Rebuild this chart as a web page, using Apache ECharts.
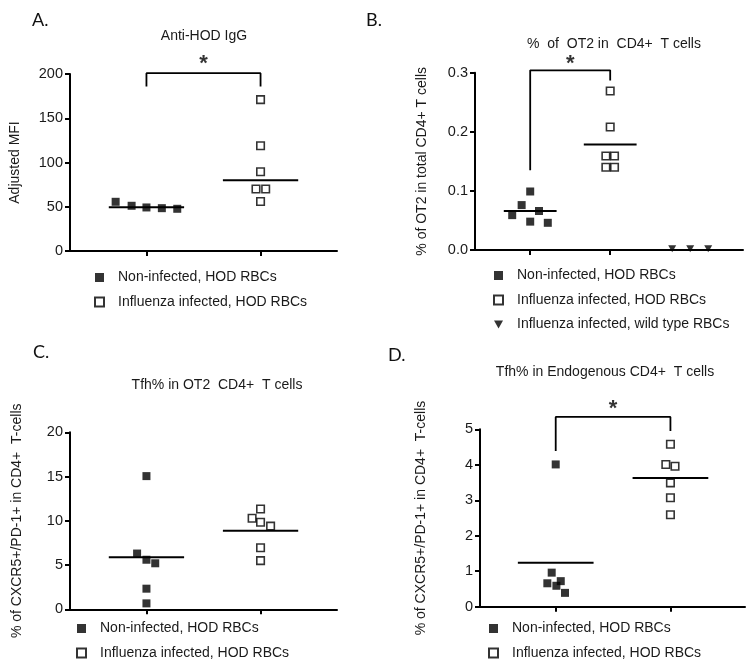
<!DOCTYPE html>
<html><head><meta charset="utf-8">
<script src="https://cdn.jsdelivr.net/npm/echarts@6/dist/echarts.min.js"></script>
<style>html,body{margin:0;padding:0;background:#fff}#c{width:750px;height:663px}</style>
</head><body><div id="c"></div>
<script>
const groupNames = ['Non-infected, HOD RBCs', 'Influenza infected, HOD RBCs', 'Influenza infected, wild type RBCs'];
const panelTitles = ['Anti-HOD IgG', '%  of  OT2 in  CD4+  T cells', 'Tfh% in OT2  CD4+  T cells', 'Tfh% in Endogenous CD4+  T cells'];
const panelLetters = ['A.', 'B.', 'C.', 'D.'];
const yNames = ['Adjusted MFI', '% of OT2 in total CD4+ T cells', '% of CXCR5+/PD-1+ in CD4+  T-cells', '% of CXCR5+/PD-1+ in CD4+  T-cells'];

// Panel A
const aNonInf = [55.6, 51.1, 49.2, 48.4, 47.7];
const aNonInfJitter = [-0.27, -0.13, 0, 0.135, 0.27];
const aFlu = [171, 119, 89.5, 70, 70, 56];
const aFluJitter = [0, 0, 0, -0.04, 0.045, 0];
const aCentre = [49.5, 80];
const aBracket = [186, 200.9, 186];
const aStar = 211;

// Panel B
const bNonInf = [0.076, 0.059, 0.099, 0.066, 0.048, 0.046];
const bNonInfJitter = [-0.107, -0.225, 0, 0.11, 0, 0.22];
const bFlu = [0.269, 0.208, 0.159, 0.159, 0.140, 0.140];
const bFluJitter = [0, 0, -0.054, 0.054, -0.054, 0.054];
const bWt = [0.002, 0.002, 0.002];
const bWtJitter = [-0.225, 0, 0.225];
const bCentre = [0.066, 0.1785, 0];
const bBracket = [0.135, 0.304, 0.287];
const bStar = 0.315;

// Panel C
const cNonInf = [15.05, 6.3, 5.6, 5.2, 2.33, 0.67];
const cNonInfJitter = [0, -0.082, 0, 0.077, 0, 0];
const cFlu = [11.33, 10.28, 9.83, 9.4, 6.96, 5.5];
const cFluJitter = [0, -0.074, 0, 0.088, 0, 0];
const cCentre = [5.87, 8.88];

// Panel D
const dNonInf = [4.01, 0.96, 0.66, 0.59, 0.72, 0.39];
const dNonInfJitter = [0, -0.035, -0.073, 0.006, 0.044, 0.081];
const dFlu = [4.58, 4.01, 3.96, 3.49, 3.07, 2.59];
const dFluJitter = [0, -0.04, 0.04, 0, 0, 0];
const dCentre = [1.24, 3.63];
const dBracket = [4.39, 5.35, 4.95];
const dStar = 5.57;

const yTicks = [
  {min: 0, max: 200, interval: 50, dec: 0},
  {min: 0, max: 0.3, interval: 0.1, dec: 1},
  {min: 0, max: 20, interval: 5, dec: 0},
  {min: 0, max: 5, interval: 1, dec: 0}
];

const FONT = '"Liberation Sans", Arial, sans-serif';
const styles = [
  {symbol: 'rect', symbolSize: 8, itemStyle: {color: '#000', borderWidth: 0}},
  {symbol: 'rect', symbolSize: 7.5, itemStyle: {color: '#fff', borderColor: '#000', borderWidth: 1.6}},
  {symbol: 'path://M0,0L10,0L5,9Z', symbolSize: [8, 7], itemStyle: {color: '#000', borderWidth: 0}}
];

const grids = [
  {left: 70, top: 74, width: 267, height: 177},
  {left: 475, top: 72.7, width: 268, height: 177.3},
  {left: 70, top: 432.3, width: 267, height: 177},
  {left: 480, top: 429.3, width: 265, height: 177.4}
];
const xRanges = [[-0.67, 1.67], [-0.69, 2.66], [-0.67, 1.67], [-0.66, 1.65]];
const nameGaps = [48, 46, 46, 52];

const series = [];
function pts(g, gi, cat, values, jitter) {
  series.push(Object.assign({
    type: 'scatter', name: groupNames[g], xAxisIndex: gi, yAxisIndex: gi, silent: true, clip: false,
    data: values.map((v, i) => [cat + jitter[i], v])
  }, JSON.parse(JSON.stringify(styles[g]))));
}
function centre(gi, cat, v) {
  series.push({type: 'line', xAxisIndex: gi, yAxisIndex: gi, silent: true, symbol: 'none', clip: false,
    lineStyle: {color: '#000', width: 2}, data: [[cat - 0.33, v], [cat + 0.33, v]]});
}
function bracket(gi, b, star) {
  series.push({type: 'line', xAxisIndex: gi, yAxisIndex: gi, silent: true, symbol: 'none', clip: false,
    lineStyle: {color: '#000', width: 1.8}, data: [[0, b[0]], [0, b[1]], [1, b[1]], [1, b[2]]]});
  series.push({type: 'scatter', xAxisIndex: gi, yAxisIndex: gi, silent: true, clip: false, symbolSize: 1,
    itemStyle: {color: 'transparent'}, data: [[0.5, star]],
    label: {show: true, position: 'inside', formatter: '*', fontSize: 22, fontWeight: 'bold', color: '#000', fontFamily: FONT}});
}

pts(0, 0, 0, aNonInf, aNonInfJitter); pts(1, 0, 1, aFlu, aFluJitter);
aCentre.forEach((v, i) => centre(0, i, v)); bracket(0, aBracket, aStar);

pts(0, 1, 0, bNonInf, bNonInfJitter); pts(1, 1, 1, bFlu, bFluJitter); pts(2, 1, 2, bWt, bWtJitter);
bCentre.forEach((v, i) => centre(1, i, v)); bracket(1, bBracket, bStar);

pts(0, 2, 0, cNonInf, cNonInfJitter); pts(1, 2, 1, cFlu, cFluJitter);
cCentre.forEach((v, i) => centre(2, i, v));

pts(0, 3, 0, dNonInf, dNonInfJitter); pts(1, 3, 1, dFlu, dFluJitter);
dCentre.forEach((v, i) => centre(3, i, v)); bracket(3, dBracket, dStar);

const axisLine = {show: true, onZero: false, lineStyle: {color: '#000', width: 2}};
const xAxis = grids.map((g, i) => ({
  type: 'value', gridIndex: i, min: xRanges[i][0], max: xRanges[i][1],
  axisLine, axisTick: {show: true, customValues: [0, 1], length: 5, lineStyle: {color: '#000', width: 2}},
  axisLabel: {show: false}, splitLine: {show: false}
}));
const yAxis = grids.map((g, i) => ({
  type: 'value', gridIndex: i, min: yTicks[i].min, max: yTicks[i].max, interval: yTicks[i].interval,
  axisLine, axisTick: {show: true, length: 5, lineStyle: {color: '#000', width: 2}},
  axisLabel: {fontSize: 14.5, color: '#1a1a1a', margin: 7, fontFamily: FONT, formatter: v => v.toFixed(yTicks[i].dec)},
  splitLine: {show: false},
  name: yNames[i], nameLocation: 'middle', nameGap: nameGaps[i],
  nameTextStyle: {fontSize: 14, color: '#1a1a1a', fontFamily: FONT}
}));

const legendPos = [
  {left: 94, top: 270.5, n: 2},
  {left: 493, top: 268.5, n: 3},
  {left: 76, top: 621.5, n: 2},
  {left: 488, top: 621.5, n: 2}
];
const legend = legendPos.map(p => ({
  left: p.left, top: p.top, orient: 'vertical', itemGap: 10.5, itemWidth: 9, itemHeight: 9,
  padding: 0, height: 80,
  selectedMode: false, data: groupNames.slice(0, p.n),
  textStyle: {fontSize: 14, color: '#1a1a1a', fontFamily: FONT, padding: [0, 0, 0, 9]}
}));

const titlePos = [[204, 36], [614, 44], [217, 385], [605, 372]];
const letterPos = [[32, 20], [366, 20], [33, 352], [388, 355]];
const graphic = [];
titlePos.forEach((p, i) => graphic.push({type: 'text', x: p[0], y: p[1],
  style: {text: panelTitles[i], fontSize: 14, fill: '#1a1a1a', fontFamily: FONT, align: 'center', verticalAlign: 'middle'}}));
letterPos.forEach((p, i) => graphic.push({type: 'text', x: p[0], y: p[1],
  style: {text: panelLetters[i], fontSize: 18, fill: '#111', fontFamily: 'Lato, "Open Sans", sans-serif', align: 'left', verticalAlign: 'middle'}}));

const chart = echarts.init(document.getElementById('c'), null, {renderer: 'canvas'});
chart.setOption({
  animation: false, backgroundColor: '#fff',
  grid: grids, xAxis, yAxis, series, legend, graphic
});
</script></body></html>
